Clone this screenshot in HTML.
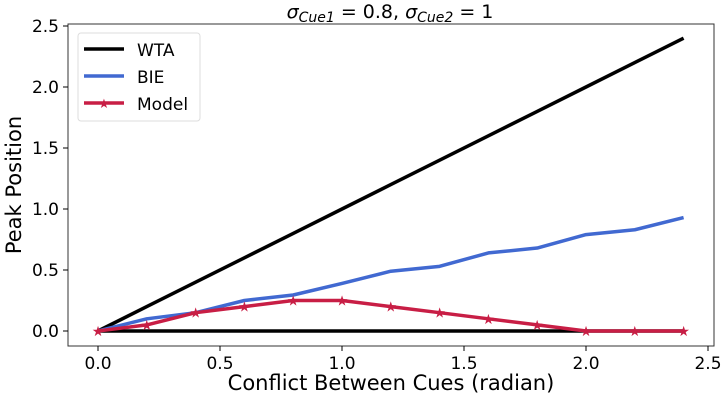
<!DOCTYPE html>
<html><head><meta charset="utf-8"><style>
body{margin:0;background:#fff;}
svg text{font-family:"DejaVu Sans","Liberation Sans",sans-serif;fill:#000;}
</style></head><body>
<svg id="chart" width="725" height="400" viewBox="0 0 725 400" xmlns="http://www.w3.org/2000/svg">
<text x="390" y="18" font-size="19" text-anchor="middle"><tspan font-style="italic">σ</tspan><tspan font-style="italic" font-size="14" dy="4">Cue1</tspan><tspan dy="-4"> = 0.8, </tspan><tspan font-style="italic">σ</tspan><tspan font-style="italic" font-size="14" dy="4">Cue2</tspan><tspan dy="-4"> = 1</tspan></text>
<rect x="68" y="24" width="646" height="322" fill="#fff" stroke="#333" stroke-width="1"/>
<g id="ticks"></g>
<g id="series"></g>
<text x="391" y="390" font-size="21" text-anchor="middle">Conflict Between Cues (radian)</text>
<text transform="translate(21,185) rotate(-90)" font-size="21" text-anchor="middle">Peak Position</text>
<g>
<rect x="78" y="33" width="122" height="88" rx="3" fill="#fff" stroke="#ddd"/>
<line x1="84" y1="49" x2="124" y2="49" stroke="#000" stroke-width="3.5"/>
<text x="137" y="56" font-size="17">WTA</text>
<line x1="84" y1="76" x2="124" y2="76" stroke="#4169d1" stroke-width="3.5"/>
<text x="137" y="83" font-size="17">BIE</text>
<line x1="84" y1="103" x2="124" y2="103" stroke="#c81e45" stroke-width="3.5"/>
<text x="104" y="108" font-size="13" text-anchor="middle" style="fill:#c81e45">★</text>
<text x="137" y="110" font-size="17">Model</text>
</g>
</svg>
<script>
const xValues=[0,0.2,0.4,0.6,0.8,1.0,1.2,1.4,1.6,1.8,2.0,2.2,2.4];
const wtaValues=[0,0.2,0.4,0.6,0.8,1.0,1.2,1.4,1.6,1.8,2.0,2.2,2.4];
const wtaZeroValues=[0,0,0,0,0,0,0,0,0,0,0,0,0];
const bieValues=[0,0.1,0.15,0.25,0.295,0.39,0.49,0.53,0.64,0.68,0.79,0.83,0.93];
const modelValues=[0,0.05,0.15,0.2,0.25,0.25,0.2,0.15,0.1,0.05,0,0,0];
const xTicks=["0.0","0.5","1.0","1.5","2.0","2.5"];
const yTicks=["0.0","0.5","1.0","1.5","2.0","2.5"];
const NS="http://www.w3.org/2000/svg";
const sx=v=>98+v*244;
const sy=v=>331-v*122;
const tg=document.getElementById('ticks'), sg=document.getElementById('series');
function mk(tag,attrs,parent){const e=document.createElementNS(NS,tag);for(const k in attrs)e.setAttribute(k,attrs[k]);parent.appendChild(e);return e;}
xTicks.forEach(t=>{const v=parseFloat(t);
 const l=mk('line',{x1:sx(v),x2:sx(v),y1:346,y2:351,stroke:'#000'},tg);
 
 
 const tx=mk('text',{x:sx(v),y:369,'font-size':17,'text-anchor':'middle'},tg);tx.textContent=t;
 
 });
yTicks.forEach(t=>{const v=parseFloat(t);
 const l=mk('line',{x1:63,x2:68,y1:sy(v),y2:sy(v),stroke:'#000'},tg);
 
 
 const tx=mk('text',{x:59,y:sy(v)+6,'font-size':17,'text-anchor':'end'},tg);tx.textContent=t;
 
 });
function line(vals,color,name){
 const p=mk('polyline',{points:vals.map((v,i)=>sx(xValues[i])+','+sy(v)).join(' '),fill:'none',stroke:color,'stroke-width':3.5,'stroke-linejoin':'round'},sg);
 
 }
line(wtaZeroValues,'#000','wta-zero-line');
line(wtaValues,'#000','wta-line');
line(bieValues,'#4169d1','bie-line');
line(modelValues,'#c81e45','model-line');
modelValues.forEach((v,i)=>{
 const s=mk('text',{x:sx(xValues[i]),y:sy(v)+5,'font-size':14,'text-anchor':'middle',style:'fill:#c81e45'},sg);s.textContent='★';
 
 });
</script>
</body></html>
